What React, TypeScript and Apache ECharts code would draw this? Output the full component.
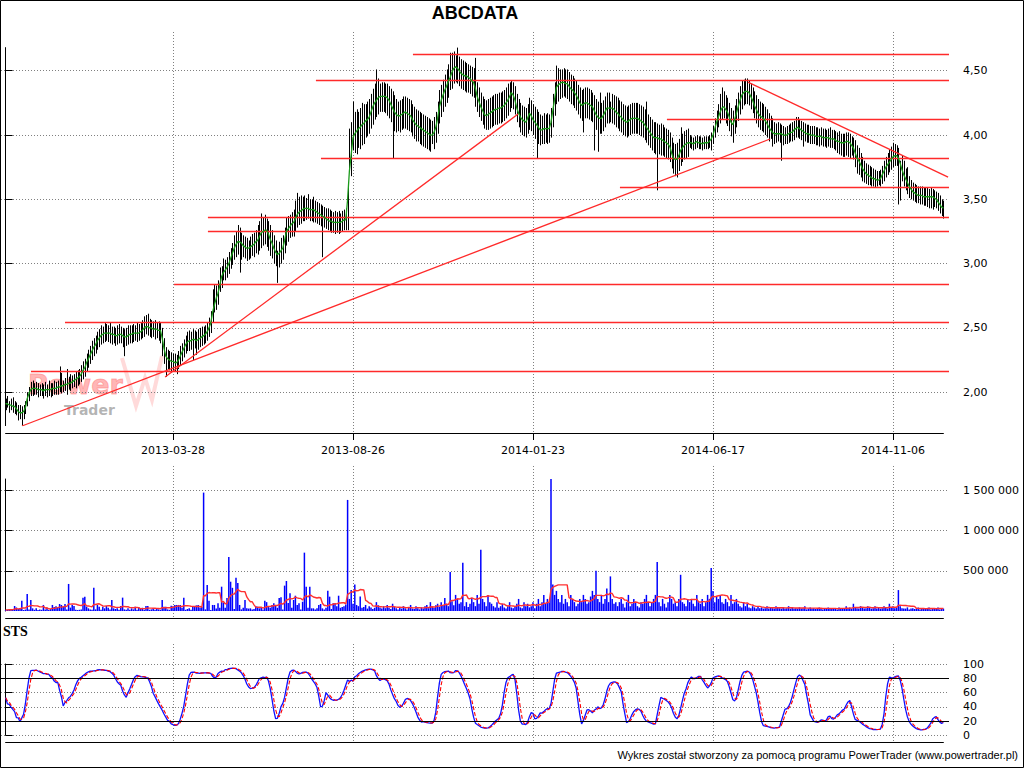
import React, { useEffect, useRef } from 'react';
import * as echarts from 'echarts';

// ---- date ticks (bar index -> label) ----
const dateTickIndex = [93, 193, 293, 393, 493];
const dateTickLabels = ['2013-03-28', '2013-08-26', '2014-01-23', '2014-06-17', '2014-11-06'];

// ---- price: green moving-average line (PLN cents) ----
const maLine = [
  191,191,190,190,189,189,187,185,184,184, 185,188,195,199,202,203,203,203,202,202,
  202,201,202,202,202,202,203,203,203,204, 204,205,205,206,206,207,207,208,209,210,
  211,212,214,217,219,223,226,229,232,235, 237,240,242,244,245,246,246,246,246,245,
  245,244,244,245,245,244,243,243,244,245, 245,246,246,246,246,247,248,250,251,251,
  250,250,249,249,249,248,248,242,234,228, 226,225,224,224,223,223,225,228,231,234,
  237,239,240,240,241,241,240,241,242,243, 244,245,247,250,254,262,268,273,277,283,
  290,293,295,297,300,304,308,312,315,317, 317,316,314,313,312,312,313,314,315,317,
  318,321,324,325,326,326,323,319,316,312, 309,307,308,310,312,318,325,327,329,331,
  332,335,338,340,341,342,343,343,343,342, 342,342,341,340,339,338,337,336,335,334,
  333,333,332,332,332,332,332,333,334,334, 350,372,385,398,401,403,405,406,408,409,
  411,412,414,418,422,425,427,429,430,430, 430,430,429,427,424,421,418,416,415,415,
  416,417,418,417,416,415,412,410,408,407, 406,405,404,403,402,401,400,400,402,406,
  413,422,427,431,435,438,442,445,449,452, 453,452,450,448,447,446,446,445,444,442,
  441,436,430,426,422,419,416,415,416,417, 418,419,420,420,421,421,422,423,425,427,
  430,433,431,427,421,417,414,412,411,410, 413,417,415,412,410,408,406,404,404,405,
  405,405,405,410,419,428,437,439,440,441, 441,440,440,438,436,435,433,431,428,425,
  423,424,425,425,424,423,422,419,416,414, 413,413,415,418,421,421,421,421,420,418,
  417,415,414,412,411,410,411,412,413,413, 413,413,412,411,410,408,406,404,402,400,
  398,398,398,397,397,396,395,394,393,391, 386,382,381,381,384,388,390,392,393,394,
  394,394,393,394,395,394,394,393,394,394, 394,395,397,400,405,410,414,418,421,422,
  420,418,414,410,408,412,417,422,427,431, 433,434,434,433,430,427,423,420,417,415,
  414,413,411,409,406,404,402,401,401,401, 401,401,400,400,400,401,402,402,404,405,
  406,405,404,403,402,401,401,400,400,400, 399,399,399,399,398,398,398,398,397,397,
  397,396,395,395,394,394,394,395,395,394, 392,390,386,382,380,377,374,372,370,369,
  368,367,366,366,365,365,366,369,372,375, 377,379,381,383,384,384,382,378,373,369,
  366,363,360,358,356,355,354,353,353,353, 352,352,352,352,352,352,351,350,348,346,
  344,343
];

// ---- price: daily highs (cents) ----
const highs = [
  195,197,193,195,196,193,192,190,190,189, 190,193,200,204,208,209,207,208,207,206,
  207,206,208,206,209,207,207,209,208,209, 220,215,209,211,218,212,214,213,214,216,
  217,218,221,224,226,230,233,236,240,242, 244,247,249,252,251,254,253,252,254,251,
  251,250,252,253,251,250,249,250,252,252, 252,253,252,254,253,254,256,259,260,261,
  257,256,255,256,254,255,254,250,242,235, 233,232,231,230,230,229,232,236,238,241,
  244,247,248,247,249,248,247,249,250,251, 251,252,254,258,263,280,284,283,287,297,
  298,304,303,305,309,312,316,322,325,330, 328,324,322,321,320,318,321,323,324,326,
  330,333,339,336,338,335,333,330,326,322, 318,310,317,320,322,328,336,337,338,340,
  342,349,355,352,353,352,353,351,354,350, 350,352,349,348,347,346,345,344,343,343,
  342,341,340,341,340,341,339,341,342,343, 362,405,410,426,418,420,418,421,425,424,
  424,426,428,432,436,440,451,444,440,441, 441,440,440,438,436,434,431,428,426,427,
  428,430,430,429,428,427,424,422,420,419, 418,417,416,415,414,413,412,411,414,418,
  426,435,439,443,447,451,455,464,464,465, 462,468,461,459,458,457,456,455,454,453,
  452,460,441,437,433,430,428,427,428,429, 430,431,432,432,433,433,434,435,437,440,
  441,442,441,438,432,428,425,423,422,421, 424,429,427,424,422,420,418,416,415,417,
  416,417,416,421,432,441,454,452,451,451, 452,451,451,449,447,446,444,442,439,437,
  435,436,437,437,436,435,433,431,428,426, 433,425,427,430,433,433,426,432,431,430,
  429,427,426,424,423,422,423,424,425,425, 425,425,424,423,422,420,426,416,414,412,
  410,410,409,408,409,408,406,405,404,402, 398,394,393,394,397,406,401,403,404,405,
  400,399,398,399,400,399,399,398,399,399, 399,400,402,407,413,419,424,432,437,434,
  431,429,425,421,419,423,428,433,438,442, 443,444,444,442,440,437,434,431,428,426,
  425,424,422,420,417,415,413,410,409,410, 409,408,407,406,407,408,409,410,411,414,
  414,412,411,410,409,408,408,407,407,407, 406,406,405,406,405,405,404,405,406,404,
  404,403,402,403,401,401,401,402,402,401, 399,398,396,392,390,386,383,380,378,377,
  376,375,374,373,372,372,373,376,380,383, 386,389,391,394,393,392,390,380,384,380,
  374,375,368,365,363,362,361,360,360,360, 359,359,359,358,359,358,357,356,355,353,
  350,349
];

// ---- price: daily lows (cents) ----
const lows = [
  186,188,184,186,184,183,182,178,179,174, 179,183,189,193,197,197,198,198,196,197,
  197,195,197,196,197,196,197,198,198,198, 200,199,200,201,198,202,201,203,204,203,
  205,206,208,210,212,216,219,222,225,228, 230,233,235,237,238,239,240,239,238,237,
  238,236,237,238,238,235,228,236,237,238, 238,239,240,239,240,241,242,243,245,244,
  243,242,243,241,242,240,238,228,222,212, 218,217,215,216,216,214,218,221,224,227,
  230,232,232,233,225,234,229,233,235,236, 237,238,240,243,246,254,262,264,268,278,
  281,287,287,289,292,296,299,303,305,307, 293,303,305,304,302,303,304,306,305,308,
  307,310,312,314,315,313,310,306,304,300, 298,285,297,300,303,308,314,317,320,321,
  321,325,328,330,331,333,333,334,335,333, 333,332,332,331,330,329,305,328,327,326,
  325,324,324,323,324,323,324,325,326,326, 326,373,368,388,386,385,390,389,392,393,
  398,399,401,405,408,412,414,416,418,418, 418,417,415,413,410,382,403,402,403,402,
  404,405,405,404,403,402,399,397,395,395, 393,392,391,390,389,388,387,393,389,394,
  401,409,414,418,422,425,429,435,436,440, 441,440,438,436,435,434,433,433,432,430,
  429,422,418,414,411,408,405,404,404,405, 406,407,408,408,409,409,410,411,413,415,
  418,421,420,416,410,406,402,400,399,398, 401,404,403,400,397,382,393,392,393,393,
  394,393,394,398,406,415,424,426,428,429, 430,429,428,426,424,423,421,419,416,413,
  411,402,413,413,412,411,410,388,404,387, 401,401,403,406,409,409,410,409,408,406,
  405,403,402,400,399,398,399,400,401,401, 401,401,400,399,398,396,394,392,390,388,
  386,385,357,385,384,384,383,382,381,379, 374,370,368,367,372,376,379,381,382,383,
  390,389,388,389,390,389,389,388,389,389, 389,390,388,393,398,402,406,409,412,413,
  409,407,403,399,394,401,406,411,416,420, 423,424,424,423,420,417,413,409,406,404,
  403,402,400,398,395,397,391,393,394,395, 394,380,392,393,393,394,395,395,396,398,
  398,397,396,391,395,394,394,393,393,393, 392,392,391,392,391,391,390,391,390,390,
  389,388,386,385,384,383,383,384,383,382, 384,381,375,370,369,367,364,363,362,361,
  361,360,360,359,360,361,360,362,364,367, 369,371,373,375,376,376,346,349,364,360,
  357,354,351,350,349,348,347,347,346,346, 345,345,344,343,343,342,344,343,341,339,
  337,335
];

// ---- daily volume (thousands of shares) ----
const volumesK = [
  12,15,20,12,25,62,45,25,33,128,12,18,211,20,137,33,15,33,12,20,
  15,75,20,40,12,25,75,50,60,42,87,75,54,87,20,336,42,75,62,15,
  12,15,20,166,178,54,33,20,15,290,20,75,54,15,54,33,62,40,20,137,
  33,25,33,15,62,166,20,15,33,15,33,20,54,15,45,30,40,15,62,62,
  15,20,33,15,33,20,15,137,54,54,20,15,65,60,75,75,75,75,40,166,
  15,25,33,15,54,62,70,75,45,50,1471,20,323,128,12,75,75,30,95,40,
  302,105,40,160,672,364,288,25,414,348,75,20,40,137,33,30,33,20,25,62,
  54,33,40,20,128,110,62,40,75,95,75,40,160,170,20,315,373,100,220,40,
  137,190,75,95,20,115,725,300,40,302,33,33,20,33,75,87,33,20,40,252,
  178,25,95,95,60,190,40,50,60,80,1380,150,260,90,330,75,60,180,40,50,
  75,30,60,45,25,40,110,70,45,30,60,35,75,40,25,90,50,35,20,45,
  30,60,35,20,45,75,30,25,60,35,20,45,30,60,75,35,110,50,40,70,
  90,50,110,70,160,90,60,485,120,70,200,150,90,110,600,60,110,50,90,160,
  110,60,200,90,760,150,110,60,200,110,90,60,45,110,40,60,90,45,30,60,
  110,45,35,60,90,150,45,35,110,60,90,45,60,110,35,90,150,60,110,200,
  90,150,110,1654,330,200,250,150,110,200,90,150,110,60,200,150,110,60,90,150,
  110,200,150,90,110,180,250,200,500,150,110,200,90,150,280,110,430,150,90,110,
  60,110,150,90,45,110,200,60,90,150,110,60,45,110,90,150,200,110,60,110,
  150,200,610,110,60,150,90,45,110,200,150,90,110,60,150,450,110,90,60,150,
  110,150,90,60,200,110,90,150,60,110,200,150,535,250,110,180,150,200,110,90,
  150,110,60,200,90,110,150,90,60,45,110,60,90,45,35,60,45,30,60,35,
  45,30,35,60,30,45,35,30,60,45,35,30,45,30,35,60,30,45,30,35,
  30,45,30,35,60,20,30,45,30,35,25,30,45,30,20,35,30,45,30,25,
  35,30,20,45,30,30,35,60,30,45,30,90,45,35,30,60,45,30,35,60,
  45,30,35,60,30,45,30,35,60,45,30,90,45,60,35,45,260,60,35,30,
  30,45,20,30,35,25,30,45,20,30,35,30,25,45,20,30,35,30,45,20,
  35,30
];

// ---- red support / resistance levels: [start bar index, price] ----
const supportLevels = [
  [226.3, 4.632], [172.4, 4.428], [367.4, 4.119], [175.2, 3.818], [341.3, 3.596],
  [112.4, 3.362], [112.4, 3.254], [93.6, 2.839], [33.0, 2.547], [14.1, 2.16]
];
// ---- red trend lines: [bar0, price0, bar1, price1] ----
const trendLines = [
  [9.1, 1.737, 424.7, 3.969],
  [88.6, 2.118, 284.7, 4.163],
  [412.4, 4.412, 523.6, 3.673]
];

const X_MIN = -2.556;
const X_MAX = 524.11;

function sma(arr: number[], n: number): number[] {
  return arr.map((_, i) => {
    const s = Math.max(0, i - n + 1);
    let t = 0;
    for (let j = s; j <= i; j++) t += arr[j];
    return t / (i - s + 1);
  });
}

// position of value c inside the window range [ll, hh] of a series, in %
function rangePos(c: number, series: number[], i: number, n: number, lowSeries?: number[]) {
  let hh = -Infinity, ll = Infinity;
  for (let j = Math.max(0, i - n + 1); j <= i; j++) {
    hh = Math.max(hh, series[j]);
    ll = Math.min(ll, (lowSeries || series)[j]);
  }
  const v = hh > ll ? (100 * (c - ll)) / (hh - ll) : 50;
  return Math.max(0, Math.min(100, v));
}

// stochastic oscillator (STS) derived from the price arrays
function stochastic(n: number) {
  const mid = highs.map((h, i) => (h + lows[i]) / 2);
  const raw = maLine.map((c, i) => (rangePos(c, mid, i, n) + rangePos(c, highs, i, n, lows)) / 2);
  const k = sma(raw, 3);
  const d = sma(k, 3);
  return { k, d };
}

const dotted = { color: '#808080', width: 1, type: [1, 2] as any };
const axisFont = { color: '#000', fontSize: 11, fontFamily: 'DejaVu Sans' };

function spaced(v: number) {
  return String(Math.round(v)).replace(/\B(?=(\d{3})+(?!\d))/g, ' ');
}

export default function App() {
  const ref = useRef<HTMLDivElement>(null);
  useEffect(() => {
    if (!ref.current) return;
    const chart = echarts.init(ref.current, null, { renderer: 'svg' });
    const cats = highs.map((_, i) => String(i));
    const isTick = (idx: number) => dateTickIndex.indexOf(idx) >= 0;
    const volMA = sma(volumesK, 10);
    const sts = stochastic(14);

    const valueX = (gridIndex: number) => ({
      type: 'value', gridIndex, min: X_MIN, max: X_MAX, show: false,
      splitLine: { show: false }
    });
    const bgX = (gridIndex: number, withLabels: boolean) => ({
      type: 'category', gridIndex, data: cats, boundaryGap: false,
      axisLine: { show: true, onZero: false, lineStyle: { color: '#000', width: 1 } },
      axisTick: { show: withLabels, interval: (i: number) => isTick(i), length: 7, lineStyle: { color: '#000' } },
      axisLabel: {
        show: withLabels, interval: (i: number) => isTick(i), margin: 12, ...axisFont,
        formatter: (_v: string, i: number) => {
          const k = dateTickIndex.indexOf(i);
          return k >= 0 ? dateTickLabels[k] : '';
        }
      },
      splitLine: { show: true, interval: (i: number) => isTick(i), lineStyle: dotted }
    });
    const hiddenY = (gridIndex: number) => ({ type: 'value', gridIndex, show: false, splitLine: { show: false } });

    const option: any = {
      animation: false,
      backgroundColor: '#fff',
      textStyle: { fontFamily: 'DejaVu Sans' },
      grid: [
        { left: 1, top: 47.6, width: 948, height: 378 },
        { left: 5.6, top: 32, width: 937.8, height: 401 },
        { left: 1, top: 479, width: 948, height: 132 },
        { left: 5.6, top: 466, width: 937.8, height: 152 },
        { left: 1, top: 664, width: 948, height: 71.3 },
        { left: 5.6, top: 644, width: 937.8, height: 98.7 }
      ],
      xAxis: [valueX(0), bgX(1, true), valueX(2), bgX(3, false), valueX(4), bgX(5, false)],
      yAxis: [
        {
          type: 'value', gridIndex: 0, position: 'right', offset: 3, min: 1.74, max: 4.68, splitNumber: 5,
          axisLine: { show: true, lineStyle: { color: '#000' } },
          axisTick: { show: true, length: 7, lineStyle: { color: '#000' } },
          axisLabel: { ...axisFont, margin: 11, showMinLabel: false, showMaxLabel: false,
            formatter: (v: number) => v.toFixed(2).replace('.', ',') },
          splitLine: { show: true, showMinLine: false, showMaxLine: false, lineStyle: dotted }
        },
        hiddenY(1),
        {
          type: 'value', gridIndex: 2, position: 'right', offset: 3, min: 0, max: 1640000, splitNumber: 3,
          axisLine: { show: true, lineStyle: { color: '#000' } },
          axisTick: { show: true, length: 7, lineStyle: { color: '#000' } },
          axisLabel: { ...axisFont, margin: 11, showMinLabel: false, showMaxLabel: false, formatter: spaced },
          splitLine: { show: true, showMinLine: false, showMaxLine: false, lineStyle: dotted }
        },
        hiddenY(3),
        {
          type: 'value', gridIndex: 4, position: 'right', offset: 3, min: 0, max: 100, interval: 20,
          axisLine: { show: true, lineStyle: { color: '#000' } },
          axisTick: { show: true, length: 7, lineStyle: { color: '#000' } },
          axisLabel: { ...axisFont, margin: 11 },
          splitLine: { show: true, lineStyle: dotted }
        },
        hiddenY(5)
      ],
      series: [
        {
          type: 'custom', name: 'bars', xAxisIndex: 0, yAxisIndex: 0, silent: true,
          encode: { x: 0, y: [1, 2] },
          data: highs.map((h, i) => [i, lows[i] / 100, h / 100]),
          renderItem: (_p: any, api: any) => {
            const i = api.value(0);
            const a = api.coord([i, api.value(1)]);
            const b = api.coord([i, api.value(2)]);
            const x = Math.round(a[0]) + 0.5;
            return { type: 'line', shape: { x1: x, y1: a[1], x2: x, y2: b[1] }, style: { stroke: '#000', lineWidth: 1 } };
          }
        },
        {
          type: 'line', name: 'ma', xAxisIndex: 0, yAxisIndex: 0, symbol: 'none', silent: true,
          data: maLine.map((v, i) => [i, v / 100]),
          lineStyle: { color: '#1a9a1a', width: 1.3 }
        },
        {
          type: 'lines', coordinateSystem: 'cartesian2d', xAxisIndex: 0, yAxisIndex: 0, silent: true,
          lineStyle: { color: '#ff2a2a', width: 1.3, opacity: 1 },
          data: [
            ...supportLevels.map(([s, v]) => ({ coords: [[s, v], [X_MAX, v]] })),
            ...trendLines.map(([a, va, b, vb]) => ({ coords: [[a, va], [b, vb]] }))
          ]
        },
        {
          type: 'bar', name: 'vol', xAxisIndex: 2, yAxisIndex: 2, barWidth: 1.5, silent: true,
          itemStyle: { color: '#0000ff' },
          data: volumesK.map((v, i) => [i, v * 1000])
        },
        {
          type: 'line', name: 'volMA', xAxisIndex: 2, yAxisIndex: 2, symbol: 'none', silent: true,
          data: volMA.map((v, i) => [i, v * 1000]),
          lineStyle: { color: '#ff3030', width: 1.4 }
        },
        {
          type: 'line', name: 'K', xAxisIndex: 4, yAxisIndex: 4, symbol: 'none', silent: true,
          data: sts.k.map((v, i) => [i, v]),
          lineStyle: { color: '#1010ff', width: 1.3 },
          markLine: {
            silent: true, symbol: 'none', label: { show: false },
            lineStyle: { color: '#000', type: 'solid', width: 1 },
            data: [{ yAxis: 20 }, { yAxis: 80 }]
          }
        },
        {
          type: 'line', name: 'D', xAxisIndex: 4, yAxisIndex: 4, symbol: 'none', silent: true,
          data: sts.d.map((v, i) => [i, v]),
          lineStyle: { color: '#ff0000', width: 1.1, type: [4, 2] }
        }
      ],
      graphic: [
        { type: 'polyline', z: -11, silent: true,
          shape: { points: [[122, 358], [136, 406], [145, 378], [152, 400], [162, 356]] },
          style: { stroke: 'rgba(255,150,150,0.35)', lineWidth: 4, fill: 'none' } },
        { type: 'text', z: -10, x: 28, y: 384, silent: true,
          style: { text: 'Power', fontSize: 27, fontWeight: 'bold', fontFamily: 'DejaVu Sans',
            fill: 'rgba(255,110,110,0.5)', stroke: 'rgba(255,60,60,0.35)', lineWidth: 1, verticalAlign: 'middle' } },
        { type: 'text', z: -10, x: 64, y: 409.5, silent: true,
          style: { text: 'Trader', fontSize: 14, fontWeight: 'bold', fontFamily: 'DejaVu Sans',
            fill: 'rgba(130,130,130,0.6)', verticalAlign: 'middle' } },
        { type: 'text', x: 475, y: 13, silent: true,
          style: { text: 'ABCDATA', fontSize: 18, fontWeight: 'bold', fontFamily: 'Liberation Sans', fill: '#000', align: 'center', verticalAlign: 'middle' } },
        { type: 'text', x: 3, y: 631, silent: true,
          style: { text: 'STS', fontSize: 14, fontWeight: 'bold', fontFamily: 'Liberation Serif', fill: '#000', align: 'left', verticalAlign: 'middle' } },
        { type: 'text', x: 1018, y: 755, silent: true,
          style: { text: 'Wykres został stworzony za pomocą programu PowerTrader (www.powertrader.pl)', fontSize: 11, fontFamily: 'Liberation Sans', fill: '#000', align: 'right', verticalAlign: 'middle' } },
        { type: 'rect', silent: true, shape: { x: 0.5, y: 0.5, width: 1023, height: 767 },
          style: { fill: 'none', stroke: '#000', lineWidth: 1 } }
      ]
    };
    chart.setOption(option);
    return () => chart.dispose();
  }, []);
  return <div ref={ref} style={{ position: 'fixed', left: 0, top: 0, width: 1024, height: 768, background: '#fff' }} />;
}
